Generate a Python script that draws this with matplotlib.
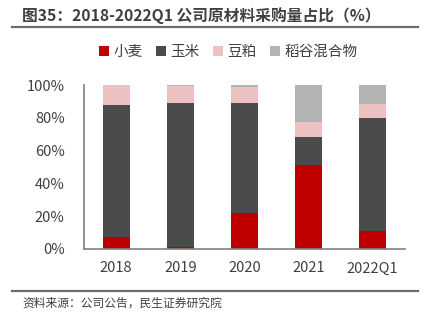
import numpy as np
import matplotlib
matplotlib.use("Agg")
import matplotlib.pyplot as plt

plt.rcParams['font.family'] = ['Noto Sans CJK SC', 'DejaVu Sans']

# 数据（%）
years = ['2018', '2019', '2020', '2021', '2022Q1']
wheat = [7, 1, 22, 51, 11]
corn = [81, 88, 67, 17, 69]
soy = [12, 10.5, 9.6, 9.2, 8.6]
rice = [0, 0.5, 1.4, 22.8, 11.4]

names = ['小麦', '玉米', '豆粕', '稻谷混合物']
colors = ['#C00000', '#4B4B4B', '#EBC1C1', '#B3B3B3']

fig = plt.figure(figsize=(4.27, 3.22), dpi=100)

# 整张图的底层，用来画标题下和来源上的横线
bg = fig.add_axes([0, 0, 1, 1])
bg.set_xlim(0, 1)
bg.set_ylim(0, 1)
bg.axis('off')
for yy in [0.915, 0.097]:
    bg.plot([0.028, 0.979], [yy, yy], color='#6E6E6E', lw=1.6)

ax = fig.add_axes([0.197, 0.227, 0.751, 0.509])
ax.patch.set_alpha(0)

x = np.arange(len(years))
bottom = np.zeros(len(years))
for vals, name, c in zip([wheat, corn, soy, rice], names, colors):
    ax.bar(x, vals, 0.42, bottom=bottom, color=c, label=name)
    bottom += np.array(vals)

ax.set_xlim(-0.5, 4.5)
ax.set_ylim(0, 100)
ax.set_xticks(x)
ax.set_xticklabels(years)
ax.set_yticks(range(0, 101, 20))
ax.set_yticklabels([f'{v}%' for v in range(0, 101, 20)])
ax.tick_params(length=0, labelsize=10.5, colors='#404040', pad=9)
ax.tick_params(axis='y', pad=14)
for s in ['top', 'right']:
    ax.spines[s].set_visible(False)
for s in ['left', 'bottom']:
    ax.spines[s].set_color('#808080')
    ax.spines[s].set_linewidth(1.2)

ax.legend(loc='center', bbox_to_anchor=(0.45, 1.20), ncol=4, frameon=False,
          fontsize=10.5, handlelength=0.7, handleheight=0.7, handletextpad=0.3,
          columnspacing=0.9, labelcolor='#404040')

# 标题和来源
fig.text(0.052, 0.953, '图35：2018-2022Q1 公司原材料采购量占比（%）', fontsize=11.3,
         fontweight='bold', color='#404040', va='center')
fig.text(0.052, 0.058, '资料来源：公司公告，民生证券研究院', fontsize=8.5,
         color='#404040', va='center')

fig.savefig('out.png', dpi=100)
